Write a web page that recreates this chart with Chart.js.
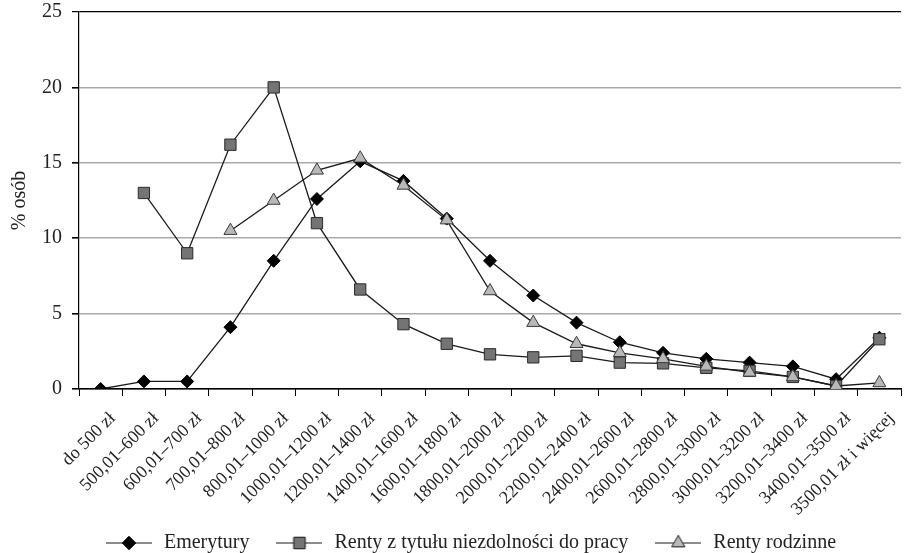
<!DOCTYPE html>
<html>
<head>
<meta charset="utf-8">
<script src="https://cdn.jsdelivr.net/npm/chart.js@4/dist/chart.umd.min.js"></script>
<style>
html,body{margin:0;padding:0;background:#fff;}
#wrap{width:910px;height:553px;}
</style>
</head>
<body>
<div id="wrap"><canvas id="c" width="910" height="553"></canvas></div>
<script>
const categories = ["do 500 zł","500,01–600 zł","600,01–700 zł","700,01–800 zł","800,01–1000 zł","1000,01–1200 zł","1200,01–1400 zł","1400,01–1600 zł","1600,01–1800 zł","1800,01–2000 zł","2000,01–2200 zł","2200,01–2400 zł","2400,01–2600 zł","2600,01–2800 zł","2800,01–3000 zł","3000,01–3200 zł","3200,01–3400 zł","3400,01–3500 zł","3500,01 zł i więcej"];
const emerytury = [0, 0.5, 0.5, 4.1, 8.5, 12.6, 15.1, 13.8, 11.3, 8.5, 6.2, 4.4, 3.1, 2.4, 2.0, 1.75, 1.5, 0.65, 3.4];
const rentyNiezdolnosc = [null, 13.0, 9.0, 16.2, 20.0, 11.0, 6.6, 4.3, 3.0, 2.3, 2.1, 2.2, 1.75, 1.7, 1.4, 1.2, 0.8, 0.2, 3.3];
const rentyRodzinne = [null, null, null, 10.5, 12.5, 14.5, 15.3, 13.5, 11.2, 6.5, 4.4, 3.0, 2.4, 2.0, 1.5, 1.1, 0.8, 0.2, 0.4];
const seriesNames = ["Emerytury","Renty z tytułu niezdolności do pracy","Renty rodzinne"];
const yTicks = [0,5,10,15,20,25];

const LINE = '#1a1a1a';
const styles = [
  {pointStyle:'rectRot', radius:6.5, fill:'#000000', border:'#000000'},
  {pointStyle:'rect', radius:8, fill:'#747474', border:'#2a2a2a'},
  {pointStyle:'triangle', radius:7.5, fill:'#b8b8b8', border:'#3a3a3a'}
];

function legendIcon(st){
  const cv = document.createElement('canvas');
  cv.width = 46; cv.height = 18;
  const cx = cv.getContext('2d');
  cx.strokeStyle = LINE; cx.lineWidth = 1.2;
  cx.beginPath(); cx.moveTo(0,9); cx.lineTo(46,9); cx.stroke();
  cx.fillStyle = st.fill; cx.strokeStyle = st.border; cx.lineWidth = 1;
  Chart.helpers.drawPoint(cx, {pointStyle: st.pointStyle, radius: st.radius, rotation: 0, borderWidth: 1}, 23, 9);
  cx.fill(); cx.stroke();
  return cv;
}

const seriesData = [emerytury, rentyNiezdolnosc, rentyRodzinne];
const orders = [2,1,0];
const datasets = seriesData.map((d,i)=>({
  label: seriesNames[i],
  data: d,
  order: orders[i],
  borderColor: LINE,
  borderWidth: 1.3,
  backgroundColor: styles[i].fill,
  pointStyle: styles[i].pointStyle,
  pointRadius: styles[i].radius,
  pointHoverRadius: styles[i].radius,
  pointBackgroundColor: styles[i].fill,
  pointBorderColor: styles[i].border,
  pointBorderWidth: 1,
  tension: 0,
  spanGaps: false,
  fill: false
}));

const FONT = "'Liberation Serif', 'Times New Roman', serif";

const shiftLegend = {
  id: 'shiftLegend',
  afterLayout(chart) {
    const l = chart.legend;
    if (l) { l.left += 15; l.right += 15; l.top += 10; l.bottom += 10; }
    const x = chart.scales.x;
    if (x) { x.bottom = chart.height; }
  }
};

new Chart(document.getElementById('c'), {
  type: 'line',
  data: { labels: categories, datasets },
  plugins: [shiftLegend],
  options: {
    responsive: false,
    animation: false,
    devicePixelRatio: 1,
    layout: { padding: { top: 12, right: 0, bottom: 0, left: 0 } },
    plugins: {
      tooltip: { enabled: false },
      legend: {
        position: 'bottom',
        labels: {
          usePointStyle: true,
          pointStyleWidth: 50,
          boxHeight: 18,
          padding: 25,
          color: '#222',
          font: { family: FONT, size: 20 },
          generateLabels: (chart) => seriesNames.map((n,i)=>({
            text: n,
            pointStyle: legendIcon(styles[i]),
            fillStyle: styles[i].fill,
            strokeStyle: styles[i].border,
            lineWidth: 0,
            hidden: false,
            datasetIndex: i,
            fontColor: '#222'
          }))
        }
      }
    },
    scales: {
      x: {
        offset: true,
        grid: { display: true, drawOnChartArea: false, drawTicks: true, tickLength: 7, tickColor: '#000', offset: true },
        border: { display: true, color: '#000', width: 1.2 },
        ticks: { autoSkip: false, minRotation: 45, maxRotation: 45, padding: 12, labelOffset: 12, color: '#222', font: { family: FONT, size: 18 } },
        afterFit: (s) => { s.height = 109; s.paddingLeft = 0; s.paddingRight = 0; }
      },
      y: {
        min: 0, max: 25,
        afterBuildTicks: (s) => { s.ticks = yTicks.map(v=>({value:v})); },
        grid: {
          color: (ctx) => (ctx.tick && (ctx.tick.value === 25 || ctx.tick.value === 0)) ? '#000' : '#aaaaaa',
          lineWidth: (ctx) => (ctx.tick && ctx.tick.value === 25) ? 1.2 : 1.6,
          tickColor: '#000', tickLength: 7, drawTicks: true
        },
        border: { display: true, color: '#000', width: 1.2 },
        ticks: { padding: 10, color: '#222', font: { family: FONT, size: 20 } },
        title: { display: true, text: '% osób', color: '#222', font: { family: FONT, size: 20 }, padding: { top: 8, bottom: 0 } },
        afterFit: (s) => { s.width = 79; s.paddingTop = 0; s.paddingBottom = 0; }
      }
    }
  }
});
</script>
</body>
</html>
